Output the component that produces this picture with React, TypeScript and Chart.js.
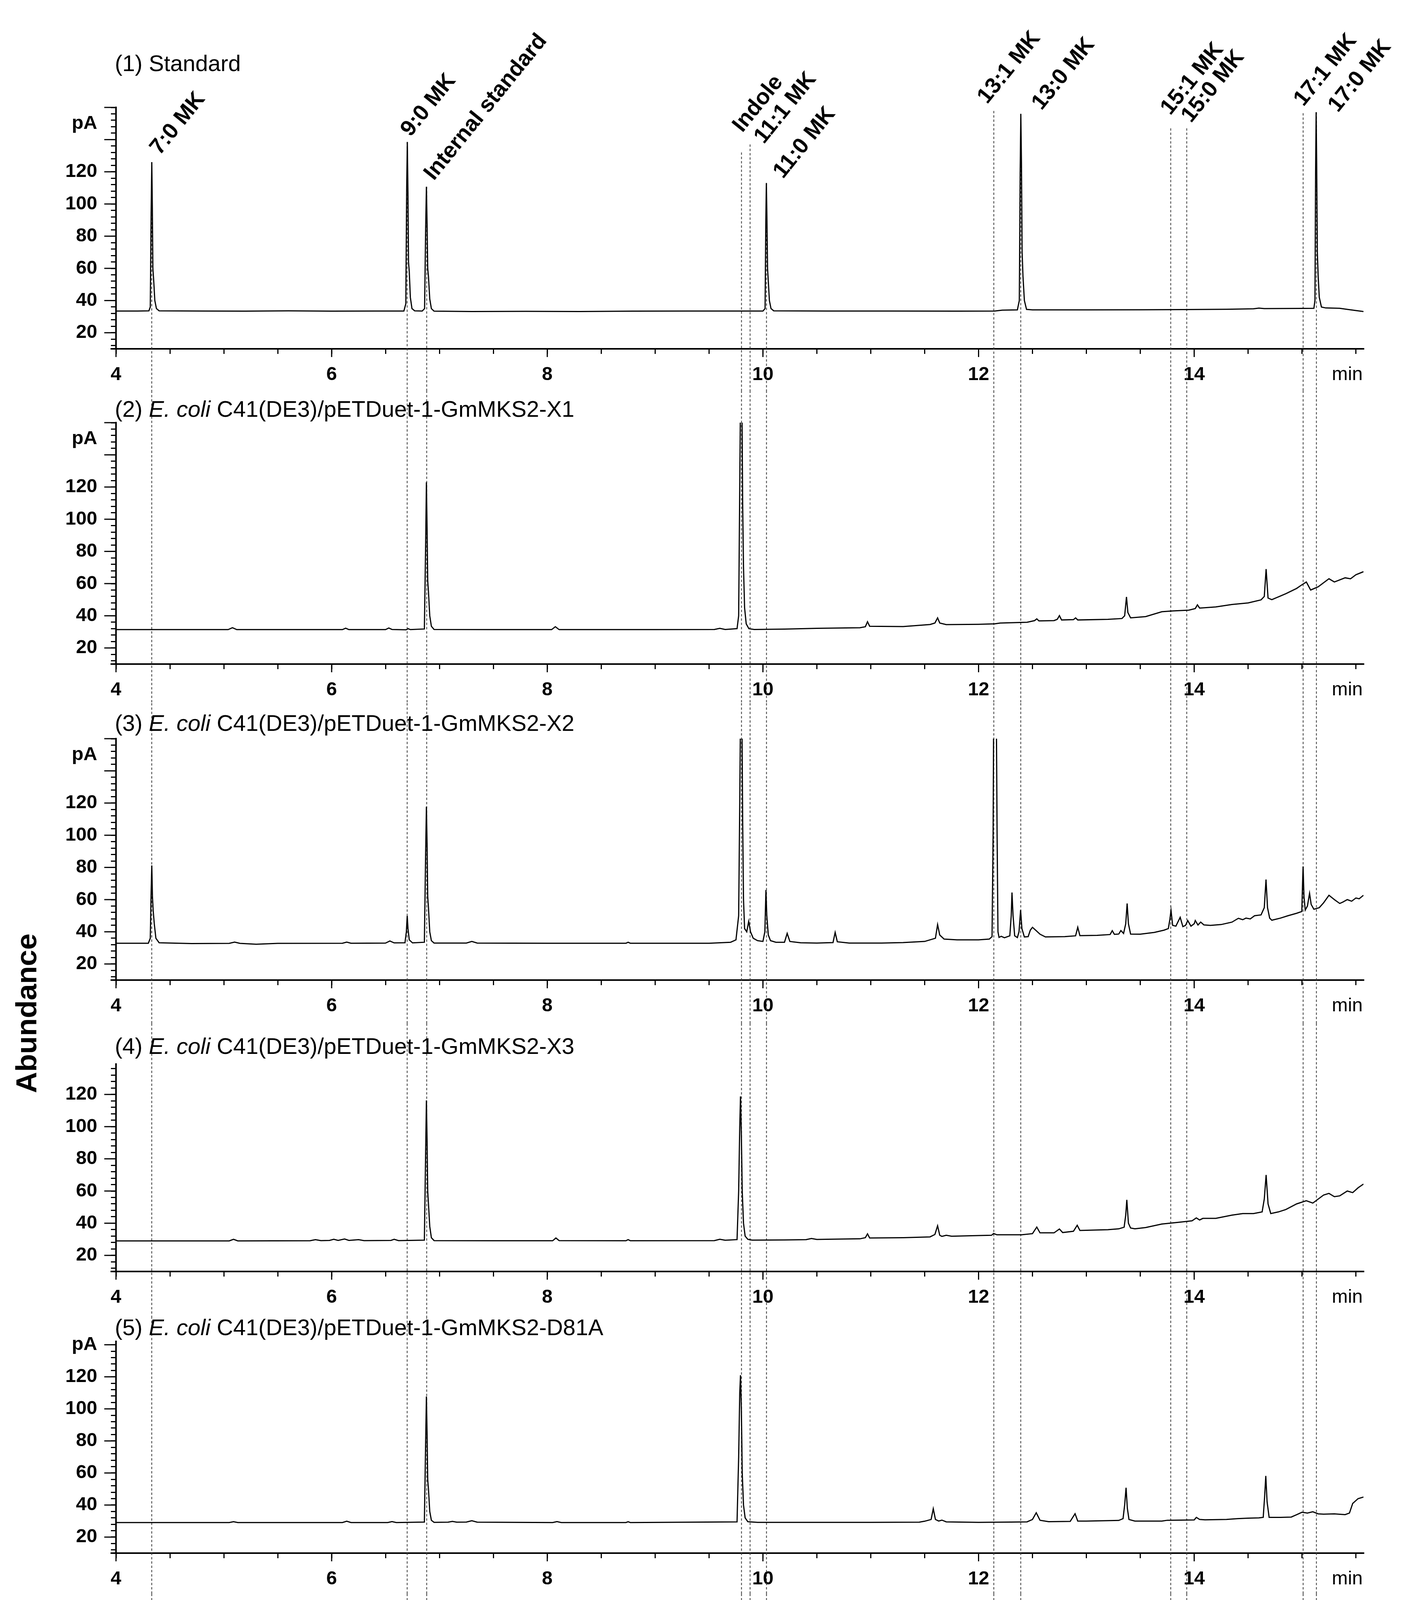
import React, { useEffect, useRef } from 'react';
import { Chart, registerables } from 'chart.js';

Chart.register(...registerables);

const W = 3605;
const H = 5049;
const FONT = '"Liberation Sans", Arial, Helvetica, sans-serif';

// ---------- axes ----------
const X_MIN = 4;
const X_MAX = 15.57;
const Y_MIN = 10;
const X_TICKS = [4, 4.5, 5, 5.5, 6, 6.5, 7, 7.5, 8, 8.5, 9, 9.5, 10, 10.5, 11, 11.5, 12, 12.5, 13, 13.5, 14, 14.5, 15, 15.5];
const X_LABELS = [4, 6, 8, 10, 12, 14];
const Y_LABELS = [20, 40, 60, 80, 100, 120];
const Y_MAJOR = [20, 40, 60, 80, 100, 120, 140, 160];
const Y_MINOR_STEP = 4;

// ---------- panel titles ----------
const TITLE_NUM = ['(1)', '(2)', '(3)', '(4)', '(5)', '(6)'];
const TITLE_ITALIC = ['', 'E. coli', 'E. coli', 'E. coli', 'E. coli', 'E. coli'];
const TITLE_REST = [
  'Standard',
  ' C41(DE3)/pETDuet-1-GmMKS2-X1',
  ' C41(DE3)/pETDuet-1-GmMKS2-X2',
  ' C41(DE3)/pETDuet-1-GmMKS2-X3',
  ' C41(DE3)/pETDuet-1-GmMKS2-D81A',
  ' C41(DE3)/pETDuet-1',
];

// ---------- reference compounds (dashed lines) ----------
const MARKER_NAMES = ['7:0 MK', '9:0 MK', 'Internal standard', 'Indole', '11:1 MK', '11:0 MK', '13:1 MK', '13:0 MK', '15:1 MK', '15:0 MK', '17:1 MK', '17:0 MK'];
const MARKER_TIMES = [4.33, 6.70, 6.88, 9.80, 9.88, 10.03, 12.14, 12.39, 13.78, 13.93, 15.01, 15.13];
const MARKER_LINE_TOP = [126, 138.5, 110.7, 132, 137, 113, 157.8, 156, 147, 147, 156.4, 157];
const MARKER_LABEL_X = [4.406, 6.731, 6.948, 9.809, 10.009, 10.186, 12.08, 12.584, 13.779, 13.971, 15.014, 15.333];
const MARKER_LABEL_BASE = [129.9, 141.3, 114.1, 144, 136.9, 115.3, 161.7, 157.8, 154.7, 150, 160.2, 156.4];
const MARKER_LINE_END = 32;

// ---------- chromatograms: [retention time (min), signal (pA)] ----------
const TRACE_STANDARD: number[][] = [
  [4.00, 33.5], [4.20, 33.5], [4.305, 33.6], [4.318, 36], [4.326, 95], [4.332, 126], [4.337, 98], [4.342, 60], [4.35, 52], [4.36, 40], [4.375, 35], [4.40, 33.6],
  [4.8, 33.5], [5.2, 33.4], [5.6, 33.6], [6.0, 33.4], [6.4, 33.5], [6.67, 33.5], [6.688, 38], [6.696, 110], [6.702, 138.5], [6.708, 105], [6.713, 64], [6.72, 58], [6.73, 42], [6.745, 35], [6.77, 33.6],
  [6.84, 33.5], [6.862, 35], [6.872, 85], [6.879, 110.7], [6.885, 88], [6.891, 60], [6.898, 55], [6.91, 41], [6.925, 35], [6.95, 33.4],
  [7.3, 33.2], [7.8, 33.3], [8.3, 33.2], [8.8, 33.4], [9.3, 33.5], [9.8, 33.5], [10.0, 33.5], [10.02, 35], [10.027, 90], [10.032, 113], [10.037, 92], [10.043, 60], [10.05, 52], [10.06, 40], [10.075, 35], [10.1, 33.6],
  [10.6, 33.5], [11.2, 33.5], [11.8, 33.4], [12.15, 33.5], [12.22, 34], [12.36, 34.2], [12.378, 40], [12.386, 120], [12.392, 156], [12.398, 125], [12.404, 70], [12.412, 55], [12.425, 40], [12.445, 34.5], [12.5, 34.2],
  [13.0, 34.2], [13.5, 34.3], [13.9, 34.4], [14.3, 34.6], [14.55, 34.9], [14.6, 35.3], [14.65, 35], [15.0, 35.1], [15.11, 35.2], [15.12, 40], [15.126, 120], [15.131, 157], [15.136, 125], [15.142, 70], [15.15, 55], [15.16, 42], [15.18, 36], [15.22, 35.4], [15.35, 35.2], [15.42, 34.5], [15.5, 33.8], [15.57, 33.2],
];

const TRACE_X1: number[][] = [
  [4.00, 31.4], [5.04, 31.4], [5.08, 32.6], [5.12, 31.4], [6.10, 31.4], [6.13, 32.3], [6.16, 31.4], [6.50, 31.4], [6.53, 32.4], [6.56, 31.5], [6.69, 31.3], [6.71, 32], [6.73, 31.4],
  [6.86, 31.8], [6.872, 85], [6.879, 123], [6.885, 95], [6.891, 62], [6.898, 55], [6.91, 40], [6.925, 33.5], [6.95, 31.5],
  [7.5, 31.4], [8.04, 31.4], [8.075, 33.2], [8.11, 31.4], [9.0, 31.4], [9.55, 31.5], [9.6, 32.2], [9.65, 31.5], [9.76, 32],
  [9.775, 40], [9.785, 120], [9.792, 175], [9.805, 175], [9.812, 110], [9.82, 70], [9.83, 45], [9.845, 35], [9.87, 32], [9.92, 31.5],
  [10.2, 31.7], [10.5, 32.2], [10.9, 32.6], [10.95, 33.2], [10.97, 36.3], [10.99, 33.5], [11.3, 33.3], [11.55, 34.6], [11.595, 35.5], [11.62, 38.7], [11.64, 35.5], [11.7, 34.5],
  [12.0, 34.7], [12.15, 35], [12.2, 35.5], [12.45, 36], [12.52, 37], [12.54, 38.1], [12.56, 36.8], [12.7, 37], [12.73, 37.8], [12.75, 40.1], [12.77, 37.4], [12.88, 37.6], [12.9, 38.7], [12.92, 37.4],
  [13.2, 37.8], [13.33, 38.3], [13.355, 40], [13.372, 51.7], [13.385, 42], [13.41, 38.7], [13.55, 39.5], [13.7, 42.5], [13.8, 43], [13.95, 43.5], [14.01, 44.5], [14.03, 46.8], [14.05, 44.8],
  [14.2, 45.5], [14.35, 47], [14.5, 48], [14.62, 49.9], [14.65, 52], [14.667, 69], [14.685, 51], [14.72, 50], [14.85, 53.7], [14.95, 57], [15.0, 59.3], [15.04, 61], [15.08, 56], [15.15, 58],
  [15.25, 63], [15.3, 61], [15.4, 63.6], [15.45, 63], [15.5, 65.5], [15.57, 67.4],
];

const TRACE_X2: number[][] = [
  [4.00, 32.9], [4.30, 32.9], [4.318, 36], [4.326, 65], [4.332, 81.2], [4.338, 62], [4.345, 53], [4.355, 45], [4.37, 36], [4.40, 33.2], [4.7, 32.7], [5.05, 32.8], [5.1, 33.6], [5.15, 32.8], [5.3, 32.3], [5.5, 32.8],
  [6.1, 32.9], [6.14, 33.6], [6.18, 32.9], [6.5, 33], [6.54, 34.3], [6.58, 33.1], [6.68, 33.2], [6.693, 40], [6.701, 49.9], [6.708, 42], [6.72, 35], [6.75, 33.1],
  [6.86, 33.5], [6.872, 90], [6.879, 117.7], [6.885, 95], [6.891, 62], [6.898, 55], [6.91, 40], [6.925, 34.5], [6.95, 33],
  [7.25, 33], [7.3, 34], [7.35, 33], [8.0, 32.9], [8.73, 32.9], [8.75, 33.5], [8.77, 32.9], [9.5, 32.9], [9.7, 33.5], [9.75, 35],
  [9.775, 50], [9.785, 120], [9.792, 175], [9.805, 175], [9.812, 110], [9.82, 60], [9.83, 42], [9.85, 40], [9.868, 46.5], [9.885, 40], [9.91, 36], [9.95, 34.5], [10.0, 34],
  [10.018, 40], [10.028, 66], [10.036, 50], [10.05, 38], [10.07, 34.5], [10.12, 33.5], [10.2, 33.5], [10.225, 39], [10.25, 34], [10.35, 33.2], [10.5, 33], [10.65, 33.3], [10.67, 39.6], [10.69, 33.8],
  [10.8, 33], [11.1, 33], [11.3, 33.3], [11.5, 34], [11.6, 36], [11.62, 44.5], [11.64, 38], [11.68, 35.5], [11.8, 35], [12.0, 35], [12.1, 35.5],
  [12.125, 37], [12.135, 100], [12.14, 175], [12.165, 175], [12.172, 100], [12.18, 40], [12.19, 36.5], [12.21, 37.2], [12.24, 36.3], [12.29, 37.5], [12.303, 50], [12.31, 64.4], [12.32, 50], [12.335, 37.5],
  [12.36, 36.4], [12.375, 40], [12.39, 53.5], [12.402, 42], [12.425, 36.8], [12.46, 37], [12.48, 41], [12.50, 42.8], [12.53, 41], [12.57, 38.5], [12.62, 36.8], [12.8, 37], [12.9, 37.5], [12.92, 42.8], [12.94, 37.6],
  [13.1, 37.8], [13.22, 38.3], [13.24, 40.7], [13.26, 38.4], [13.3, 38.6], [13.32, 40.8], [13.345, 39], [13.365, 45], [13.378, 57.6], [13.39, 45], [13.41, 38.6], [13.5, 38.5], [13.63, 39.6], [13.72, 41],
  [13.76, 42], [13.775, 48], [13.785, 53.3], [13.8, 44], [13.83, 43.5], [13.87, 49], [13.895, 43.2], [13.92, 44], [13.94, 47], [13.97, 43.5], [14.0, 45], [14.01, 47], [14.035, 44.2], [14.06, 46], [14.09, 44.3],
  [14.15, 44], [14.25, 44.5], [14.35, 46], [14.41, 48.4], [14.45, 47.5], [14.48, 48.5], [14.52, 48], [14.56, 50], [14.62, 50.5], [14.65, 55], [14.666, 72.5], [14.68, 55], [14.7, 48.5], [14.72, 47.2],
  [14.8, 48.5], [14.87, 50], [14.95, 51.5], [14.998, 52.6], [15.005, 70], [15.01, 80.6], [15.018, 62], [15.03, 53.5], [15.05, 56], [15.07, 63.9], [15.085, 57], [15.11, 54], [15.16, 55], [15.2, 58],
  [15.25, 62.7], [15.3, 60], [15.35, 57.6], [15.38, 58.5], [15.42, 60], [15.46, 59], [15.5, 61], [15.53, 60.5], [15.57, 62.7],
];

const TRACE_X3: number[][] = [
  [4.00, 29], [5.05, 29], [5.09, 30], [5.13, 29], [5.8, 29.1], [5.85, 29.8], [5.9, 29.2], [5.98, 29.3], [6.02, 30], [6.06, 29.3], [6.12, 30.2], [6.16, 29.3], [6.25, 29.8], [6.3, 29.2], [6.55, 29.3], [6.58, 30], [6.62, 29.2],
  [6.86, 29.5], [6.872, 85], [6.879, 116.3], [6.885, 92], [6.891, 60], [6.898, 52], [6.91, 38], [6.925, 31], [6.95, 29.2],
  [7.5, 29.1], [8.05, 29.1], [8.08, 30.8], [8.11, 29.2], [8.73, 29.1], [8.75, 29.8], [8.77, 29.1], [9.55, 29.2], [9.6, 30], [9.65, 29.4], [9.76, 29.8],
  [9.775, 60], [9.785, 100], [9.792, 118.8], [9.8, 95], [9.808, 60], [9.82, 40], [9.835, 32], [9.86, 30], [9.9, 29.5],
  [10.2, 29.6], [10.4, 29.8], [10.45, 30.5], [10.5, 29.9], [10.6, 30], [10.9, 30.3], [10.95, 31], [10.97, 33.4], [10.99, 30.8], [11.3, 31], [11.55, 31.5], [11.595, 33], [11.62, 38.4], [11.64, 32.5], [11.66, 31.8], [11.7, 32.5], [11.75, 31.9],
  [12.0, 32.3], [12.12, 32.5], [12.14, 33.6], [12.17, 32.8], [12.4, 32.8], [12.5, 33.5], [12.54, 37.6], [12.57, 34], [12.7, 34], [12.75, 36.4], [12.78, 34.2], [12.88, 35], [12.915, 38.7], [12.94, 35.5],
  [13.2, 36], [13.3, 36.5], [13.35, 37.5], [13.365, 45], [13.375, 54.5], [13.39, 40], [13.41, 37], [13.45, 36.5], [13.55, 37.3], [13.7, 39.5], [13.85, 40.5], [13.98, 41.5], [14.02, 43.3], [14.05, 42], [14.08, 43],
  [14.2, 43], [14.35, 45], [14.45, 46], [14.55, 46], [14.63, 47], [14.65, 55], [14.667, 70], [14.685, 52], [14.71, 46], [14.78, 47], [14.85, 48.5], [14.95, 52], [15.04, 54], [15.1, 52.5], [15.15, 55],
  [15.2, 57.5], [15.25, 58.5], [15.3, 56.5], [15.35, 57], [15.42, 60], [15.47, 59], [15.52, 62], [15.57, 64.3],
];

const TRACE_D81A: number[][] = [
  [4.00, 29.1], [5.05, 29.1], [5.09, 29.6], [5.13, 29.1], [6.1, 29.1], [6.14, 29.9], [6.18, 29.1], [6.52, 29.1], [6.56, 29.7], [6.6, 29.1],
  [6.86, 29.4], [6.872, 80], [6.879, 107.7], [6.885, 85], [6.891, 56], [6.898, 50], [6.91, 36], [6.925, 30.5], [6.95, 29.2],
  [7.08, 29.3], [7.12, 29.8], [7.16, 29.3], [7.25, 29.4], [7.3, 30.2], [7.35, 29.3], [8.05, 29.1], [8.09, 29.7], [8.13, 29.1], [8.73, 29.1], [8.75, 29.6], [8.77, 29.1], [9.76, 29.5],
  [9.775, 70], [9.785, 110], [9.792, 121], [9.8, 100], [9.808, 60], [9.82, 40], [9.835, 32], [9.86, 29.6], [9.95, 29.2],
  [10.5, 29.2], [11.0, 29.2], [11.45, 29.3], [11.5, 29.9], [11.56, 31], [11.58, 37.7], [11.6, 31], [11.63, 30], [11.66, 30.6], [11.7, 29.5], [12.0, 29.2], [12.3, 29.4], [12.45, 29.5],
  [12.5, 31], [12.535, 35.2], [12.57, 30.5], [12.65, 29.6], [12.85, 29.8], [12.895, 34.6], [12.92, 30], [13.0, 30], [13.3, 30.4], [13.34, 31.5], [13.355, 40], [13.368, 50.8], [13.38, 38], [13.395, 31], [13.45, 30],
  [13.7, 30], [13.75, 30.5], [14.0, 30.7], [14.02, 32.3], [14.05, 31], [14.1, 30.8], [14.3, 31], [14.4, 31.5], [14.5, 31.8], [14.6, 32], [14.64, 32.3], [14.653, 45], [14.664, 58.2], [14.676, 42], [14.695, 32.3],
  [14.8, 32.3], [14.9, 32.5], [14.95, 34], [15.0, 35.5], [15.05, 35], [15.1, 35.8], [15.15, 34.5], [15.2, 34.3], [15.3, 34.5], [15.4, 34], [15.44, 35], [15.47, 41], [15.52, 44], [15.57, 45],
];

const TRACE_EMPTY: number[][] = [
  [4.00, 30.9], [5.05, 30.9], [5.09, 31.6], [5.13, 30.9], [6.10, 30.9], [6.13, 32], [6.16, 30.9], [6.52, 30.9], [6.55, 31.8], [6.58, 30.9],
  [6.86, 31.2], [6.872, 75], [6.879, 109.8], [6.885, 85], [6.891, 56], [6.898, 50], [6.91, 36], [6.925, 31.8], [6.95, 30.9],
  [7.25, 30.9], [7.28, 31.7], [7.33, 31.7], [7.36, 30.9], [8.05, 30.9], [8.08, 31.7], [8.11, 30.9], [9.6, 30.9], [9.65, 31.8], [9.7, 31.5],
  [9.765, 34], [9.778, 100], [9.788, 175], [9.812, 175], [9.822, 90], [9.835, 42], [9.855, 33.5], [9.9, 31.5],
  [10.05, 31.3], [10.1, 31.8], [10.15, 31.3], [10.4, 31.8], [10.8, 32], [10.95, 32.2], [10.975, 33], [11.0, 32.3], [11.3, 32.8], [11.5, 33.2], [11.58, 34.5], [11.605, 38], [11.62, 41.5], [11.64, 36], [11.7, 34],
  [12.0, 34], [12.3, 34.3], [12.45, 34.5], [12.5, 35.5], [12.53, 39], [12.57, 36], [12.6, 35], [12.8, 35.5], [12.88, 36], [12.91, 39.7], [12.94, 36.2],
  [13.1, 36.3], [13.3, 36.5], [13.34, 37.5], [13.36, 45], [13.375, 57.5], [13.39, 40], [13.42, 36.5], [13.55, 36.8], [13.7, 37.8], [13.85, 38.5], [14.0, 39], [14.03, 40.8], [14.05, 41.2], [14.08, 39.5],
  [14.2, 40], [14.35, 41.5], [14.45, 42], [14.55, 43], [14.62, 44], [14.648, 50], [14.665, 67.5], [14.68, 50], [14.7, 42.5], [14.8, 43], [14.9, 44], [14.97, 45], [15.02, 46.5], [15.07, 49.5], [15.1, 50],
  [15.15, 48.5], [15.25, 48], [15.3, 48.5], [15.4, 50], [15.47, 51], [15.5, 53.5], [15.53, 55.5], [15.57, 55],
];

const TRACES = [TRACE_STANDARD, TRACE_X1, TRACE_X2, TRACE_X3, TRACE_D81A, TRACE_EMPTY];

// ---------- layout (page pixels) ----------
const PLOT_LEFT = 297;
const PLOT_RIGHT = 3491;
const PX_PER_UNIT = 4.12;
const TITLE_X = 294;
const MIN_LABEL_AT = 15.42;
const LAYOUT = [
  { top: 0, lineFrom: 0, bottom: 1000, axisY: 893, max: 160, titleY: 166, pA: 150 },
  { top: 1000, lineFrom: 1000, bottom: 1800, axisY: 1700, max: 160, titleY: 1051, pA: 150 },
  { top: 1800, lineFrom: 1800, bottom: 2620, axisY: 2509, max: 160, titleY: 1855, pA: 150 },
  { top: 2360, lineFrom: 2620, bottom: 3370, axisY: 3255, max: 139, titleY: 2682, pA: 0 },
  { top: 3370, lineFrom: 3370, bottom: 4080, axisY: 3976, max: 142, titleY: 3402, pA: 140 },
  { top: 4080, lineFrom: 4080, bottom: 5049, axisY: 4779, max: 160, titleY: 4124, pA: 150 },
];

function makeDecor(i: number) {
  const L = LAYOUT[i];
  return {
    id: 'decor' + i,
    beforeDatasetsDraw(chart: any) {
      const ctx = chart.ctx;
      const xs = chart.scales.x;
      const ys = chart.scales.y;
      ctx.save();
      ctx.strokeStyle = '#3a3a3a';
      ctx.lineWidth = 2;
      ctx.setLineDash([6, 5]);
      MARKER_TIMES.forEach((t, k) => {
        const px = Math.round(xs.getPixelForValue(t)) + 0.5;
        const y0 = i === 0 ? ys.getPixelForValue(MARKER_LINE_TOP[k]) : L.lineFrom - L.top;
        const y1 = i === LAYOUT.length - 1 ? ys.getPixelForValue(MARKER_LINE_END) : chart.height;
        ctx.beginPath();
        ctx.moveTo(px, y0);
        ctx.lineTo(px, y1);
        ctx.stroke();
      });
      ctx.restore();
    },
    afterDraw(chart: any) {
      const ctx = chart.ctx;
      const area = chart.chartArea;
      const xs = chart.scales.x;
      const ys = chart.scales.y;
      ctx.save();
      ctx.strokeStyle = '#000';
      ctx.fillStyle = '#000';
      ctx.setLineDash([]);
      // long (major) ticks
      ctx.lineWidth = 3;
      Y_MAJOR.forEach((v) => {
        if (v <= L.max + 0.01) {
          const y = ys.getPixelForValue(v);
          ctx.beginPath();
          ctx.moveTo(area.left - 30, y);
          ctx.lineTo(area.left, y);
          ctx.stroke();
        }
      });
      X_LABELS.forEach((v) => {
        const x = xs.getPixelForValue(v);
        ctx.beginPath();
        ctx.moveTo(x, area.bottom);
        ctx.lineTo(x, area.bottom + 21);
        ctx.stroke();
      });
      ctx.lineWidth = 4;
      ctx.beginPath();
      ctx.moveTo(area.left - 14, area.bottom);
      ctx.lineTo(area.left, area.bottom);
      ctx.stroke();

      // pA unit
      if (L.pA) {
        ctx.font = `bold 49px ${FONT}`;
        ctx.textAlign = 'right';
        ctx.textBaseline = 'middle';
        ctx.fillText('pA', area.left - 48, ys.getPixelForValue(L.pA));
      }
      // min unit
      ctx.font = `49px ${FONT}`;
      ctx.textAlign = 'center';
      ctx.textBaseline = 'middle';
      ctx.fillText('min', xs.getPixelForValue(MIN_LABEL_AT), area.bottom + 13 + 24 + 29.4);

      // title
      let tx = TITLE_X;
      const ty = L.titleY - L.top;
      ctx.textAlign = 'left';
      ctx.textBaseline = 'middle';
      const parts: [string, boolean][] = [[TITLE_NUM[i] + ' ', false], [TITLE_ITALIC[i], true], [TITLE_REST[i], false]];
      parts.forEach(([txt, ital]) => {
        if (!txt) return;
        ctx.font = `${ital ? 'italic ' : ''}58px ${FONT}`;
        ctx.fillText(txt, tx, ty);
        tx += ctx.measureText(txt).width;
      });

      // compound labels on the standard
      if (i === 0) {
        ctx.font = `bold 57px ${FONT}`;
        ctx.textAlign = 'left';
        ctx.textBaseline = 'alphabetic';
        MARKER_NAMES.forEach((name, k) => {
          const x = xs.getPixelForValue(MARKER_LABEL_X[k]);
          const y = ys.getPixelForValue(MARKER_LABEL_BASE[k]);
          ctx.save();
          ctx.translate(x, y);
          ctx.rotate((-51 * Math.PI) / 180);
          ctx.fillText(name, 0, 0);
          ctx.restore();
        });
      }
      if (i === 3) {
        ctx.save();
        ctx.translate(72, 2594 - L.top);
        ctx.rotate(-Math.PI / 2);
        ctx.font = `bold 75px ${FONT}`;
        ctx.textAlign = 'center';
        ctx.textBaseline = 'middle';
        ctx.fillText('Abundance', 0, 0);
        ctx.restore();
      }
      if (i === LAYOUT.length - 1) {
        ctx.font = `bold 75px ${FONT}`;
        ctx.textAlign = 'right';
        ctx.textBaseline = 'middle';
        ctx.fillText('Retention time', 3507, 4963 - L.top);
      }
      ctx.restore();
    },
  };
}

function buildConfig(i: number): any {
  const L = LAYOUT[i];
  const plotTop = L.axisY - (L.max - Y_MIN) * PX_PER_UNIT;
  return {
    type: 'line',
    data: {
      datasets: [
        {
          data: TRACES[i].map(([x, y]) => ({ x, y })),
          borderColor: '#000',
          borderWidth: 3,
          pointRadius: 0,
          tension: 0,
          fill: false,
        },
      ],
    },
    options: {
      animation: false,
      responsive: false,
      devicePixelRatio: 1,
      events: [],
      layout: { padding: { left: 0, top: plotTop - L.top, right: W - PLOT_RIGHT, bottom: 0 } },
      plugins: { legend: { display: false }, tooltip: { enabled: false }, title: { display: false } },
      scales: {
        x: {
          type: 'linear',
          min: X_MIN,
          max: X_MAX,
          afterBuildTicks: (s: any) => {
            s.ticks = X_TICKS.map((v) => ({ value: v }));
          },
          afterFit: (s: any) => {
            s.height = L.bottom - L.axisY;
          },
          ticks: {
            autoSkip: false,
            maxRotation: 0,
            minRotation: 0,
            padding: 24,
            color: '#000',
            font: { family: FONT, size: 49, weight: 'bold' },
            callback: (v: any) => (X_LABELS.includes(Number(v)) ? String(v) : ''),
          },
          grid: { drawOnChartArea: false, drawTicks: true, tickLength: 13, color: '#000', lineWidth: 3 },
          border: { display: true, color: '#000', width: 4 },
        },
        y: {
          type: 'linear',
          min: Y_MIN,
          max: L.max,
          afterBuildTicks: (s: any) => {
            const t: { value: number }[] = [];
            for (let v = 12; v <= L.max + 0.01; v += Y_MINOR_STEP) t.push({ value: v });
            s.ticks = t;
          },
          afterFit: (s: any) => {
            s.width = PLOT_LEFT;
          },
          ticks: {
            autoSkip: false,
            padding: 35,
            color: '#000',
            font: { family: FONT, size: 49, weight: 'bold' },
            callback: (v: any) => (Y_LABELS.includes(Number(v)) ? String(v) : ''),
          },
          grid: { drawOnChartArea: false, drawTicks: true, tickLength: 13, color: '#000', lineWidth: 3 },
          border: { display: true, color: '#000', width: 4 },
        },
      },
    },
    plugins: [makeDecor(i)],
  };
}

export default function App() {
  const refs = useRef<(HTMLCanvasElement | null)[]>([]);
  useEffect(() => {
    const charts = LAYOUT.map((_, i) => new Chart(refs.current[i] as HTMLCanvasElement, buildConfig(i)));
    return () => charts.forEach((c) => c.destroy());
  }, []);
  return (
    <div style={{ position: 'absolute', left: 0, top: 0, width: W, height: H, background: '#fff', overflow: 'hidden' }}>
      {LAYOUT.map((L, i) => (
        <canvas
          key={i}
          ref={(el) => {
            refs.current[i] = el;
          }}
          width={W}
          height={L.bottom - L.top}
          style={{ position: 'absolute', left: 0, top: L.top, width: W, height: L.bottom - L.top, display: 'block' }}
        />
      ))}
    </div>
  );
}
